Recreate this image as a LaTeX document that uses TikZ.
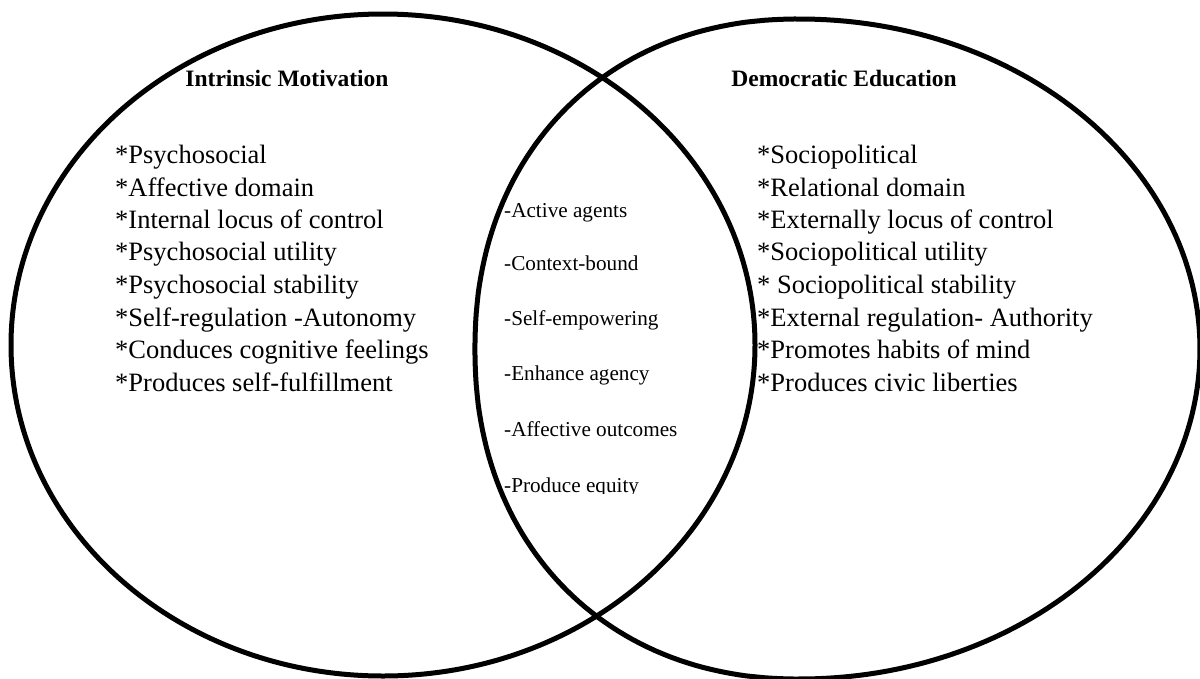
\documentclass[tikz,border=0pt]{standalone}
\usepackage{fontspec}
\setmainfont{Liberation Serif}
\begin{document}
\begin{tikzpicture}[x=1pt,y=-1pt,
  ring/.style={line width=5pt, line join=round},
  head/.style={font=\fontsize{23.5}{28}\selectfont\bfseries, anchor=center, inner sep=0pt},
  item/.style={font=\fontsize{26.5}{30}\selectfont, anchor=west, inner sep=0pt, text height=0.7em, text depth=0.2em},
  mid/.style={font=\fontsize{21.2}{25}\selectfont, anchor=west, inner sep=0pt, text height=0.7em, text depth=0.2em},
  declare function={ex(\a)=ifthenelse(cos(\a)<0,0.9302,1); rr(\a)=ifthenelse(cos(\a)<0,325,400);}]
\useasboundingbox (0,0) rectangle (1200,678);
\fill[white] (0,0) rectangle (1200,678);
\begin{scope}
\clip (0,0) rectangle (1200,678);
\draw[ring] (383,345) ellipse [x radius=372, y radius=331];
\draw[ring] plot[domain=0.75:359.25, samples=240]
  ({800+rr(\x)*sign(cos(\x))*abs(cos(\x))^(ex(\x))},
   {349+330*sign(sin(\x))*abs(sin(\x))^(ex(\x))}) -- cycle;
\end{scope}
\node[head] (hl) at (287,78) {Intrinsic Motivation};
\node[head] (hr) at (844,78) {Democratic Education};
\node[item] (l1) at (115,161) {*Psychosocial};
\node[item] (l2) at (115,194) {*Affective domain};
\node[item] (l3) at (115,226) {*Internal locus of control};
\node[item] (l4) at (115,258) {*Psychosocial utility};
\node[item] (l5) at (115,291) {*Psychosocial stability};
\node[item] (l6) at (115,324) {*Self-regulation -Autonomy};
\node[item] (l7) at (115,356) {*Conduces cognitive feelings};
\node[item] (l8) at (115,389) {*Produces self-fulfillment};
\node[item] (r1) at (757,161) {*Sociopolitical};
\node[item] (r2) at (757,194) {*Relational domain};
\node[item] (r3) at (757,226) {*Externally locus of control};
\node[item] (r4) at (757,258) {*Sociopolitical utility};
\node[item] (r5) at (757,291) {* Sociopolitical stability};
\node[item] (r6) at (757,324) {*External regulation- Authority};
\node[item] (r7) at (757,356) {*Promotes habits of mind};
\node[item] (r8) at (757,389) {*Produces civic liberties};
\node[mid] (m1) at (504,215) {-Active agents};
\node[mid] (m2) at (504,268) {-Context-bound};
\node[mid] (m3) at (504,323) {-Self-empowering};
\node[mid] (m4) at (504,378) {-Enhance agency};
\node[mid] (m5) at (504,434) {-Affective outcomes};
\begin{scope}
\clip (490,450) rectangle (700,493);
\node[mid] (m6) at (504,490) {-Produce equity};
\end{scope}
\end{tikzpicture}
\end{document}
